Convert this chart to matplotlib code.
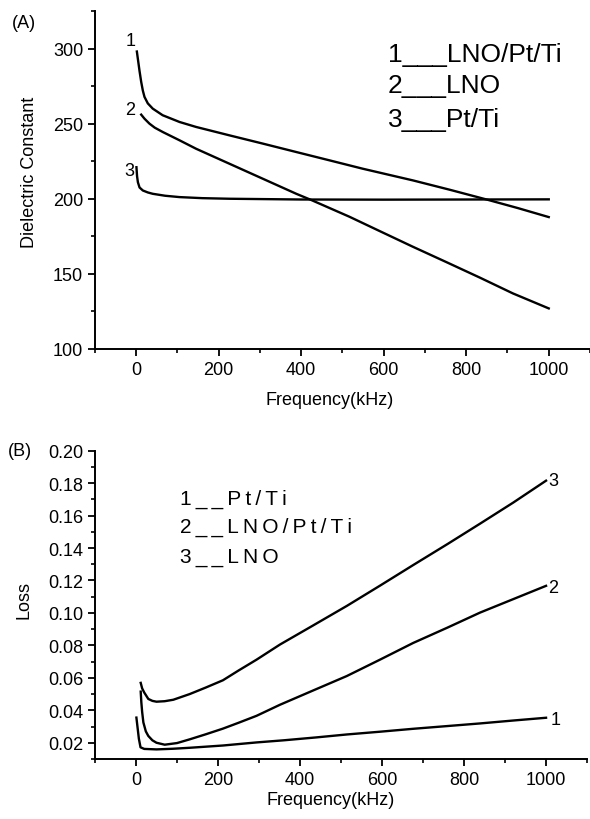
import numpy as np
import matplotlib
matplotlib.use("Agg")
import matplotlib.pyplot as plt
from matplotlib.ticker import MultipleLocator, FormatStrFormatter

plt.rcParams['font.family'] = ['Liberation Sans', 'DejaVu Sans']

# (A) dielectric constant vs frequency
freq_a1 = [1.5, 4, 8, 12, 16, 20, 28, 40, 64, 105, 145, 226, 307, 388, 468, 549, 671, 760, 848, 925, 1000]
eps_a1 = [298, 293, 285, 277.8, 272, 267.8, 263.5, 260, 255.6, 251.1, 247.8, 242.2, 236.7, 231.1, 225.6,
          220, 212.2, 206, 199.6, 193.8, 187.8]

freq_a2 = [12, 20, 32, 45, 64.5, 105, 145, 226, 307, 388, 424, 517, 590, 671, 752, 833, 913, 1000]
eps_a2 = [256, 253.3, 250, 247.3, 244.4, 238.9, 233.3, 223.3, 213.3, 203.3, 199.2, 188, 178.5, 168,
          157.8, 147.5, 137, 127]

freq_a3 = [0.5, 2, 4, 8, 16, 28, 40, 70, 105, 160, 226, 400, 600, 800, 1000]
eps_a3 = [221, 215, 211, 207.5, 205.5, 204.2, 203.3, 202, 201.1, 200.4, 200, 199.5, 199.4, 199.5, 199.6]

# (B) loss vs frequency
freq_b1 = [1, 4, 7, 11, 20, 50, 90, 131, 212, 294, 360, 440, 514, 595, 676, 760, 839, 920, 1000]
loss_b1 = [0.0355, 0.029, 0.0225, 0.0172, 0.0162, 0.0159, 0.0163, 0.0169, 0.0183, 0.0202, 0.0215, 0.0233,
           0.0251, 0.0268, 0.0286, 0.0303, 0.0319, 0.0337, 0.0354]

freq_b2 = [11.5, 13, 15, 18, 24, 30, 40, 50, 70, 100, 131, 170, 212, 250, 294, 351, 430, 514, 595, 676,
           760, 839, 920, 1000]
loss_b2 = [0.0515, 0.045, 0.039, 0.0325, 0.027, 0.0242, 0.0215, 0.020, 0.0188, 0.0198, 0.0221, 0.0252,
           0.0287, 0.0323, 0.0366, 0.0434, 0.052, 0.0611, 0.0712, 0.0815, 0.091, 0.1002, 0.1085, 0.1167]

freq_b3 = [11.5, 15, 20, 30, 40, 50, 70, 91, 131, 170, 212, 250, 294, 351, 430, 514, 595, 676, 760, 839,
           920, 1000]
loss_b3 = [0.0569, 0.0535, 0.051, 0.047, 0.0458, 0.0453, 0.0456, 0.0465, 0.050, 0.054, 0.0585, 0.0645,
           0.0712, 0.0805, 0.092, 0.1043, 0.1168, 0.1295, 0.1425, 0.155, 0.168, 0.1815]

legend_a = ["1___LNO/Pt/Ti", "2___LNO", "3___Pt/Ti"]
legend_b = ["1__Pt/Ti", "2__LNO/Pt/Ti", "3__LNO"]


def spaced(s, sep):
    # letter spacing like the original figure
    return sep.join(s)


def style(ax):
    for side in ["top", "right"]:
        ax.spines[side].set_visible(False)
    for side in ["left", "bottom"]:
        ax.spines[side].set_linewidth(1.4)
    ax.tick_params(which="major", direction="out", length=5, width=1.3, labelsize=13)
    ax.tick_params(which="minor", direction="out", length=2.8, width=1.2)
    ax.xaxis.set_major_locator(MultipleLocator(200))
    ax.xaxis.set_minor_locator(MultipleLocator(100))


fig = plt.figure(figsize=(5.9, 8.2), dpi=100)

ax1 = fig.add_axes([0.161, 0.5732, 0.8390, 0.4122])
ax1.plot(freq_a1, eps_a1, color="black", lw=1.7)
ax1.plot(freq_a2, eps_a2, color="black", lw=1.7)
ax1.plot(freq_a3, eps_a3, color="black", lw=1.7)
ax1.set_xlim(-100, 1100)
ax1.set_ylim(100, 325)
style(ax1)
ax1.yaxis.set_major_locator(MultipleLocator(50))
ax1.yaxis.set_minor_locator(MultipleLocator(25))
ax1.set_xlabel("Frequency(kHz)", fontsize=13)
ax1.set_ylabel("Dielectric Constant", fontsize=13)
ax1.xaxis.label.set_verticalalignment("center")
ax1.yaxis.label.set_verticalalignment("center")
ax1.xaxis.set_label_coords(0.474, -0.148)
ax1.yaxis.set_label_coords(-0.133, 0.525)
ax1.text(-14, 305.5, "1", fontsize=13, ha="center", va="center")
ax1.text(-16, 259.3, "2", fontsize=13, ha="center", va="center")
ax1.text(-16, 218.7, "3", fontsize=13, ha="center", va="center")
for s, yb in zip(legend_a, [0.852, 0.760, 0.660]):
    ax1.text(0.591, yb, s, fontsize=19, transform=ax1.transAxes,
             ha="left", va="baseline")

ax2 = fig.add_axes([0.161, 0.0732, 0.834, 0.376])
ax2.plot(freq_b1, loss_b1, color="black", lw=1.7)
ax2.plot(freq_b2, loss_b2, color="black", lw=1.7)
ax2.plot(freq_b3, loss_b3, color="black", lw=1.7)
ax2.set_xlim(-100, 1100)
ax2.set_ylim(0.01, 0.20)
style(ax2)
ax2.yaxis.set_minor_locator(MultipleLocator(0.01))
ax2.yaxis.set_major_formatter(FormatStrFormatter("%.2f"))
ax2.set_yticks(np.arange(0.02, 0.201, 0.02))
ax2.set_xlabel("Frequency(kHz)", fontsize=13)
ax2.set_ylabel("Loss", fontsize=13)
ax2.xaxis.label.set_verticalalignment("center")
ax2.yaxis.label.set_verticalalignment("center")
ax2.xaxis.set_label_coords(0.478, -0.13)
ax2.yaxis.set_label_coords(-0.144, 0.52)
ax2.text(1006, loss_b3[-1], "3", fontsize=13, ha="left", va="center")
ax2.text(1006, loss_b2[-1] - 0.001, "2", fontsize=13, ha="left", va="center")
ax2.text(1010, loss_b1[-1] - 0.001, "1", fontsize=13, ha="left", va="center")
for s, yb in zip(legend_b, [0.827, 0.736, 0.639]):
    ax2.text(0.173, yb, spaced(s, "\u2009"), fontsize=15, transform=ax2.transAxes,
             ha="left", va="baseline")

fig.text(24 / 590, 1 - 24 / 820, "(A)", fontsize=13, ha="center", va="center")
fig.text(20 / 590, 1 - 452 / 820, "(B)", fontsize=13, ha="center", va="center")

fig.savefig("out.png", dpi=100)
